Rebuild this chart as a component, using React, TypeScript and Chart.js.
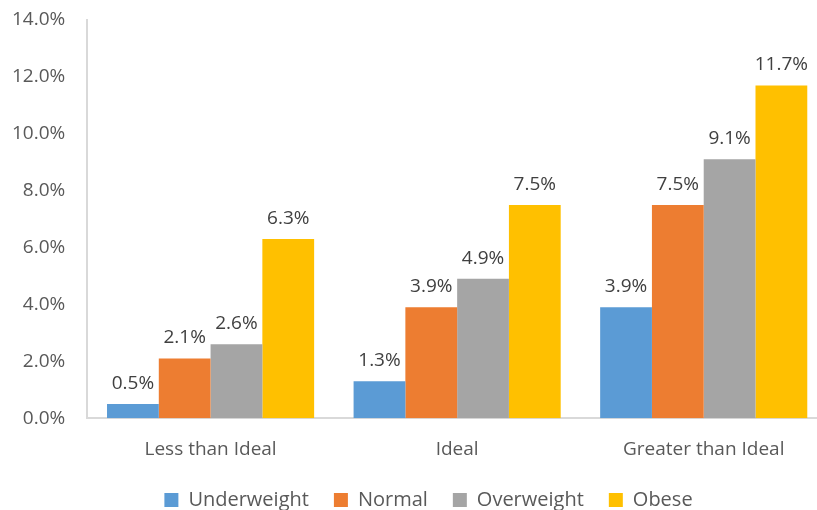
import React, { useEffect, useRef } from "react";
import { Chart, registerables } from "chart.js";

Chart.register(...registerables);

const categories = ["Less than Ideal", "Ideal", "Greater than Ideal"];
const seriesNames = ["Underweight", "Normal", "Overweight", "Obese"];
const underweight = [0.5, 1.3, 3.9];
const normal = [2.1, 3.9, 7.5];
const overweight = [2.6, 4.9, 9.1];
const obese = [6.3, 7.5, 11.7];
const colors = ["#5B9BD5", "#ED7D31", "#A5A5A5", "#FFC000"];
const yMin = 0;
const yMax = 14;
const yStep = 2;

const FONT = "'Open Sans', sans-serif";
const TEXT = "#595959";

const valueLabels = {
  id: "valueLabels",
  afterDatasetsDraw(chart: any) {
    const ctx = chart.ctx;
    ctx.save();
    ctx.font = `19px ${FONT}`;
    ctx.fillStyle = "#404040";
    ctx.textAlign = "center";
    ctx.textBaseline = "alphabetic";
    chart.data.datasets.forEach((ds: any, i: number) => {
      const meta = chart.getDatasetMeta(i);
      meta.data.forEach((bar: any, j: number) => {
        const v = ds.data[j];
        ctx.fillText(v.toFixed(1) + "%", bar.x, bar.y - 15);
      });
    });
    ctx.restore();
  },
};

const shiftLegend = {
  id: "shiftLegend",
  afterLayout(chart: any) {
    if (chart.legend) {
      chart.legend.left += 20;
      chart.legend.right += 20;
    }
  },
};

export default function App() {
  const ref = useRef<HTMLCanvasElement>(null);
  useEffect(() => {
    if (!ref.current) return;
    const values = [underweight, normal, overweight, obese];
    const chart = new Chart(ref.current, {
      type: "bar",
      data: {
        labels: categories,
        datasets: seriesNames.map((name, i) => ({
          label: name,
          data: values[i],
          backgroundColor: colors[i],
          borderWidth: 0,
          categoryPercentage: 0.84,
          barPercentage: 1,
        })),
      },
      options: {
        animation: false,
        responsive: true,
        maintainAspectRatio: false,
        layout: { padding: { top: 20, left: 0, right: 13, bottom: 0 } },
        plugins: {
          legend: {
            position: "bottom",
            labels: {
              boxWidth: 14,
              boxHeight: 14,
              padding: 25,
              color: TEXT,
              font: { family: FONT, size: 20 },
            },
          },
          tooltip: { enabled: false },
        },
        scales: {
          x: {
            grid: { display: false, drawTicks: false },
            border: { display: true, color: "#D9D9D9", width: 2 },
            ticks: { color: TEXT, font: { family: FONT, size: 19 }, padding: 20 },
            afterFit: (scale: any) => {
              scale.height -= 16;
            },
          },
          y: {
            min: yMin,
            max: yMax,
            grid: { display: false, drawTicks: false },
            border: { display: true, color: "#D9D9D9", width: 2 },
            ticks: {
              stepSize: yStep,
              color: TEXT,
              font: { family: FONT, size: 19 },
              padding: 22,
              callback: (v: any) => Number(v).toFixed(1) + "%",
            },
            afterFit: (scale: any) => {
              scale.paddingTop = 0;
              scale.paddingBottom = 0;
            },
          },
        },
      },
      plugins: [valueLabels, shiftLegend],
    });
    return () => chart.destroy();
  }, []);
  return (
    <div style={{ position: "absolute", left: 0, top: 0, width: 817, height: 510, overflow: "hidden" }}>
      <div style={{ width: 850, height: 520, position: "relative", left: -10 }}>
        <canvas ref={ref} />
      </div>
    </div>
  );
}
